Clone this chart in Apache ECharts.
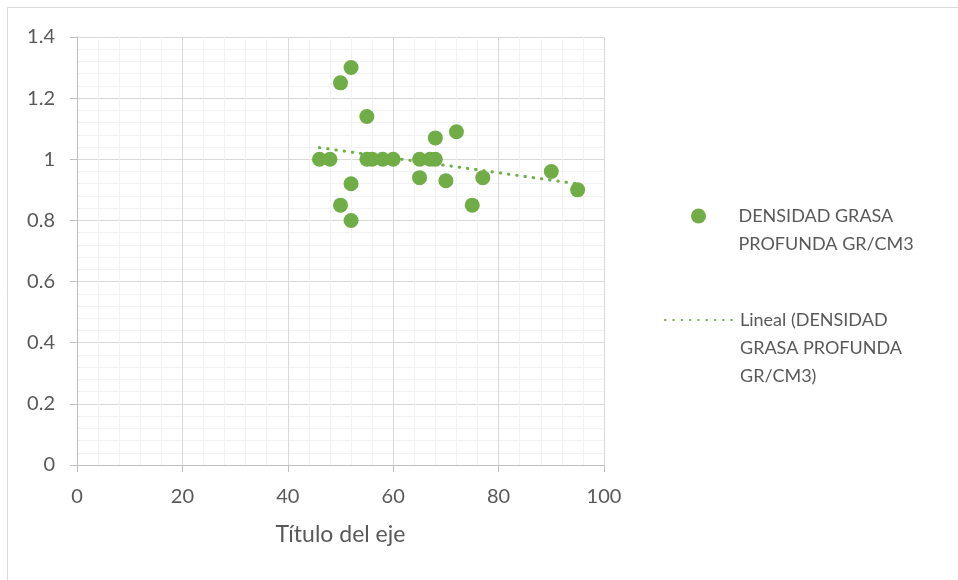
<!DOCTYPE html>
<html>
<head>
<meta charset="utf-8">
<script src="https://cdn.jsdelivr.net/npm/echarts@6/dist/echarts.min.js"></script>
<style>
  html, body { margin: 0; padding: 0; background: #fff; }
  #chart { width: 958px; height: 580px; }
</style>
</head>
<body>
<div id="chart"></div>
<script>
// Profundidad (x) y densidad de la grasa profunda (y)
const xValues = [46, 48, 50, 52, 55, 55, 56, 58, 60, 65, 67, 68, 65, 68, 72, 70, 77, 75, 90, 95, 52, 50, 52];
const yValues = [1.00, 1.00, 1.25, 1.30, 1.14, 1.00, 1.00, 1.00, 1.00, 1.00, 1.00, 1.00, 0.94, 1.07, 1.09, 0.93, 0.94, 0.85, 0.96, 0.90, 0.92, 0.85, 0.80];

const seriesName = 'DENSIDAD GRASA PROFUNDA GR/CM3';
const trendName = 'Lineal (DENSIDAD GRASA PROFUNDA GR/CM3)';
const axisTitle = 'Título del eje';

const green = '#70AD47';
const textColor = '#595959';
const font = 'Lato';

// Recta de mínimos cuadrados sobre los puntos
function linearFit(xs, ys) {
  const n = xs.length;
  const mx = xs.reduce((a, b) => a + b, 0) / n;
  const my = ys.reduce((a, b) => a + b, 0) / n;
  let sxy = 0, sxx = 0;
  for (let i = 0; i < n; i++) {
    sxy += (xs[i] - mx) * (ys[i] - my);
    sxx += (xs[i] - mx) * (xs[i] - mx);
  }
  const slope = sxy / sxx;
  return x => my + slope * (x - mx);
}
const fit = linearFit(xValues, yValues);
const xMin = Math.min(...xValues), xMax = Math.max(...xValues);
const trendData = [[xMin, fit(xMin)], [xMax, fit(xMax)]];
const points = xValues.map((x, i) => [x, yValues[i]]);

// Leyenda: las líneas vacías al principio dejan el icono a la altura de la primera línea
const legendText = { color: textColor, fontSize: 18, fontFamily: font, lineHeight: 28 };

const chart = echarts.init(document.getElementById('chart'));
chart.setOption({
  animation: false,
  textStyle: { fontFamily: font },
  graphic: [{
    type: 'rect',
    shape: { x: 7.5, y: 7.5, width: 1000, height: 600 },
    style: { fill: 'none', stroke: '#D9D9D9', lineWidth: 1 },
    silent: true, z: -10
  }],
  grid: { left: 77, right: 354, top: 37, bottom: 115 },
  legend: [{
    left: 691, top: 174, padding: 0,
    itemWidth: 70, itemHeight: 15,
    data: [seriesName],
    formatter: () => '\nDENSIDAD GRASA\nPROFUNDA GR/CM3',
    textStyle: legendText
  }, {
    left: 664, top: 250, padding: 0,
    itemWidth: 70, itemHeight: 15,
    data: [trendName],
    itemStyle: { opacity: 0 },
    lineStyle: { opacity: 1 },
    formatter: () => '\n\nLineal (DENSIDAD\nGRASA PROFUNDA\nGR/CM3)',
    textStyle: legendText
  }],
  xAxis: {
    type: 'value', min: 0, max: 100, interval: 20,
    name: axisTitle, nameLocation: 'middle', nameGap: 58,
    nameTextStyle: { color: textColor, fontSize: 23, fontFamily: font },
    axisLine: { show: true, lineStyle: { color: '#BFBFBF', width: 1 } },
    axisTick: { show: true, length: 7, lineStyle: { color: '#BFBFBF' } },
    axisLabel: { color: textColor, fontSize: 20, fontFamily: font, margin: 22 },
    splitLine: { show: true, lineStyle: { color: '#D9D9D9', width: 1 } },
    minorTick: { show: false, splitNumber: 5 },
    minorSplitLine: { show: true, lineStyle: { color: '#F2F2F2', width: 1 } }
  },
  yAxis: {
    type: 'value', min: 0, max: 1.4, interval: 0.2,
    axisLine: { show: true, lineStyle: { color: '#BFBFBF', width: 1 } },
    axisTick: { show: true, length: 7, lineStyle: { color: '#BFBFBF' } },
    axisLabel: { color: textColor, fontSize: 20, fontFamily: font, margin: 22 },
    splitLine: { show: true, lineStyle: { color: '#D9D9D9', width: 1 } },
    minorTick: { show: false, splitNumber: 5 },
    minorSplitLine: { show: true, lineStyle: { color: '#F2F2F2', width: 1 } }
  },
  series: [{
    name: seriesName,
    type: 'scatter',
    symbol: 'circle',
    symbolSize: 15,
    itemStyle: { color: green, opacity: 1 },
    data: points,
    z: 3
  }, {
    name: trendName,
    type: 'line',
    symbol: 'none',
    itemStyle: { color: green },
    lineStyle: { color: green, width: 3, type: [0.5, 7.8], cap: 'round' },
    data: trendData,
    z: 2
  }]
});
</script>
</body>
</html>
